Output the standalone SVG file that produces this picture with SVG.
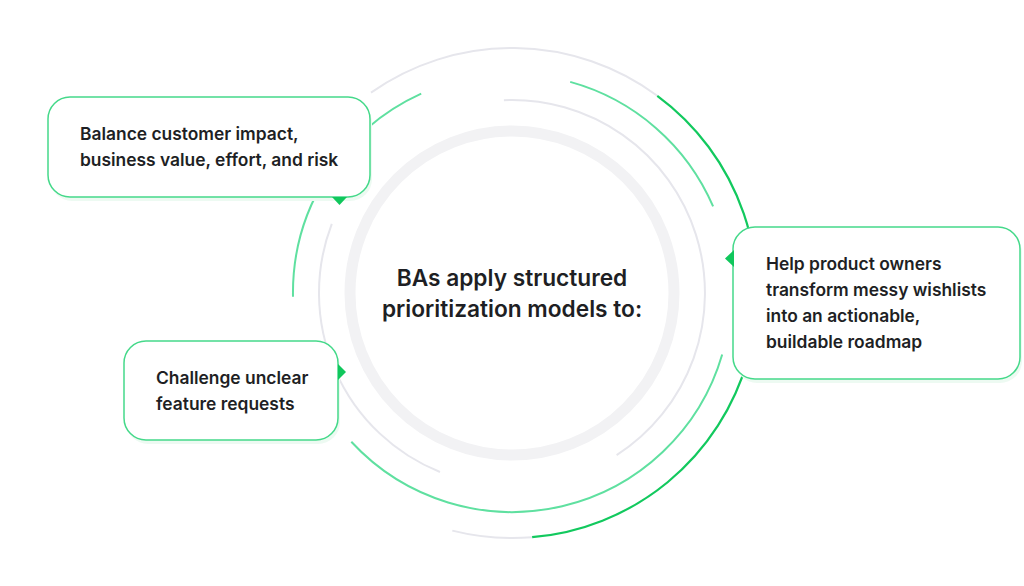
<svg xmlns="http://www.w3.org/2000/svg" width="1024" height="586" viewBox="0 0 1024 586">
<defs>
<style>
.arc{fill:none;stroke-linecap:butt}
.gray{stroke:#e6e6ec;stroke-width:2}
.lg{stroke:#5fe0a0;stroke-width:2}
.dg{stroke:#12c95e;stroke-width:2.2}
.box{fill:#ffffff;stroke:#45d98a;stroke-width:1.5}
.shadow{fill:#edfaf2}
.ptr{fill:#10c75c}
.t{font-family:Inter,"Liberation Sans",sans-serif;font-weight:600;fill:#1e1f24;font-size:17.4px}
.c{font-family:Inter,"Liberation Sans",sans-serif;font-weight:600;fill:#1e1f24;font-size:22.7px;text-anchor:middle}
</style>
</defs>
<rect width="1024" height="586" fill="#ffffff"/>
<g id="connectors">
<circle cx="512" cy="293" r="162" fill="none" stroke="#f2f2f4" stroke-width="11"/>
<path class="arc gray" d="M503.9 100.2 A193 193 0 0 1 616.6 455.2"/>
<path class="arc gray" d="M440 472 A193 193 0 0 1 331.8 223.8"/>
<path class="arc lg" d="M570.2 81.9 A219 219 0 0 1 713.1 206.4"/>
<path class="arc lg" d="M722.2 354.5 A219 219 0 0 1 351.3 441.8"/>
<path class="arc lg" d="M293 296.8 A219 219 0 0 1 421.2 93.7"/>
<path class="arc gray" d="M371 92.6 A245 245 0 0 1 657.3 95.8"/>
<path class="arc dg" d="M657.3 95.8 A245 245 0 0 1 532.1 537.2"/>
<path class="arc gray" d="M532.1 537.2 A245 245 0 0 1 452.3 530.6"/>
</g>
<g id="center">
<text class="c" x="512" y="286">BAs apply structured</text>
<text class="c" x="512" y="317">prioritization models to:</text>
</g>
<g id="node-balance">
<rect class="shadow" x="50" y="101" width="322" height="100" rx="22"/>
<rect class="box" x="48" y="97" width="322" height="100" rx="22"/>
<polygon class="ptr" points="332,197 347,197 339.5,205"/>
<text class="t" x="80" y="140">Balance customer impact,</text>
<text class="t" x="80" y="166">business value, effort, and risk</text>
</g>
<g id="node-help">
<rect class="shadow" x="735" y="231" width="287" height="152" rx="22"/>
<rect class="box" x="733" y="227" width="287" height="152" rx="22"/>
<polygon class="ptr" points="734,250 725,258.5 734,267"/>
<text class="t" x="766" y="270">Help product owners</text>
<text class="t" x="766" y="296">transform messy wishlists</text>
<text class="t" x="766" y="322">into an actionable,</text>
<text class="t" x="766" y="348">buildable roadmap</text>
</g>
<g id="node-challenge">
<rect class="shadow" x="126" y="345" width="214" height="99" rx="22"/>
<rect class="box" x="124" y="341" width="214" height="99" rx="22"/>
<polygon class="ptr" points="338,364 346,372 338,380"/>
<text class="t" x="156" y="384">Challenge unclear</text>
<text class="t" x="156" y="410">feature requests</text>
</g>
</svg>
